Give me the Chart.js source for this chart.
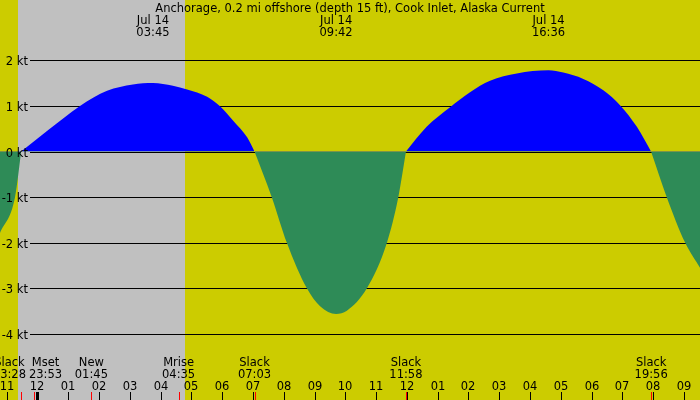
<!DOCTYPE html>
<html>
<head>
<meta charset="utf-8">
<script src="https://cdn.jsdelivr.net/npm/chart.js@4"></script>
<style>html,body{margin:0;padding:0;background:#cccc00;}</style>
</head>
<body>
<canvas id="tide" width="700" height="400"></canvas>
<script>
'use strict';

const title = 'Anchorage, 0.2 mi offshore (depth 15 ft), Cook Inlet, Alaska Current';
// hours from midnight Jul 14 (negative = evening of Jul 13)
const hours = [-1.22, -0.73, -0.53, 0.37, 1.38, 2.26, 3.10, 3.75, 4.40, 4.86, 5.51, 5.93, 6.35, 6.81, 7.05,
	7.61, 8.10, 8.75, 9.18, 9.70, 10.05, 10.70, 11.35, 11.72, 11.97,
	12.64, 13.40, 14.05, 14.70, 15.57, 16.60, 17.08, 17.73, 18.38, 18.93, 19.47, 19.93,
	20.44, 21.04, 21.52];
const knots = [-1.79, -1.0, 0, 0.48, 1.0, 1.33, 1.47, 1.50, 1.44, 1.36, 1.2, 0.99, 0.68, 0.31, 0,
	-1.0, -2.0, -3.0, -3.39, -3.56, -3.49, -3.0, -2.0, -1.0, 0,
	0.54, 0.97, 1.30, 1.55, 1.71, 1.78, 1.73, 1.59, 1.34, 1.01, 0.54, 0,
	-1.0, -2.0, -2.55];
const peakDates = ['Jul 14', 'Jul 14', 'Jul 14'];
const peakTimes = ['03:45', '09:42', '16:36'];
const eventNames = ['Slack', 'Mset', 'New', 'Mrise', 'Slack', 'Slack', 'Slack'];
const eventTimes = ['23:28', '23:53', '01:45', '04:35', '07:03', '11:58', '19:56'];
const ktTicks = [2, 1, 0, -1, -2, -3, -4];
const hourTicks = [-1, 0, 1, 2, 3, 4, 5, 6, 7, 8, 9, 10, 11, 12, 13, 14, 15, 16, 17, 18, 19, 20, 21];
const sunset = '23:22';
const sunrise = '04:47';

const FONT = '11.5px "DejaVu Sans"';

function toHours(t){
	let p = t.split(':');
	let h = parseInt(p[0], 10) + parseInt(p[1], 10) / 60;
	if(h >= 22){
		h -= 24;
	}
	return h;
}

function hourLabel(h){
	let v = ((h % 12) + 12) % 12;
	if(v == 0) v = 12;
	return (v < 10 ? '0' : '') + v;
}

const tidePlugin = {
	id: 'tide',
	beforeDraw(chart){
		let ctx = chart.ctx;
		let xs = chart.scales.x;
		ctx.save();
		ctx.fillStyle = '#cccc00';
		ctx.fillRect(0, 0, chart.width, chart.height);
		let x0 = Math.round(xs.getPixelForValue(toHours(sunset)));
		let x1 = Math.round(xs.getPixelForValue(toHours(sunrise)));
		ctx.fillStyle = '#c0c0c0';
		ctx.fillRect(x0, 0, x1 - x0, chart.height);
		ctx.restore();
	},
	beforeDatasetsDraw(chart){
		let ctx = chart.ctx;
		let ys = chart.scales.y;
		ctx.save();
		ctx.strokeStyle = '#000';
		ctx.lineWidth = 1;
		for(let i = 0; i < ktTicks.length; i++){
			let y = Math.round(ys.getPixelForValue(ktTicks[i])) + 0.5;
			ctx.beginPath();
			ctx.moveTo(30, y);
			ctx.lineTo(chart.width, y);
			ctx.stroke();
		}
		ctx.restore();
	},
	afterDatasetsDraw(chart){
		let ctx = chart.ctx;
		let xs = chart.scales.x;
		let ys = chart.scales.y;
		ctx.save();
		ctx.font = FONT;
		ctx.fillStyle = '#000';
		ctx.textBaseline = 'alphabetic';

		// kt labels
		ctx.textAlign = 'right';
		for(let i = 0; i < ktTicks.length; i++){
			let y = Math.round(ys.getPixelForValue(ktTicks[i]));
			ctx.fillText(ktTicks[i] + ' kt', 28, y + 5);
		}

		// title and peak labels
		ctx.textAlign = 'center';
		ctx.fillText(title, chart.width / 2, 12);
		for(let i = 0; i < peakTimes.length; i++){
			let x = xs.getPixelForValue(toHours(peakTimes[i]));
			ctx.fillText(peakDates[i], x, 24);
			ctx.fillText(peakTimes[i], x, 36);
		}

		// event labels, pushed apart when they collide
		let pos = eventTimes.map((t) => xs.getPixelForValue(toHours(t)));
		let widths = eventTimes.map((t, i) => Math.max(ctx.measureText(t).width, ctx.measureText(eventNames[i]).width));
		for(let i = 1; i < pos.length; i++){
			let need = (widths[i - 1] + widths[i]) / 2 + 3;
			let gap = pos[i] - pos[i - 1];
			if(gap < need){
				let d = (need - gap) / 2;
				pos[i - 1] -= d;
				pos[i] += d;
			}
		}
		for(let i = 0; i < eventNames.length; i++){
			ctx.fillText(eventNames[i], pos[i], 366);
			ctx.fillText(eventTimes[i], pos[i], 378);
		}

		// hour ticks
		for(let i = 0; i < hourTicks.length; i++){
			let x = Math.round(xs.getPixelForValue(hourTicks[i]));
			ctx.fillText(hourLabel(hourTicks[i]), x, 390);
			if(hourTicks[i] == 0){
				ctx.fillRect(x - 1, 392, 3, 8);
			}else{
				ctx.fillRect(x, 392, 1, 8);
			}
		}
		ctx.fillStyle = '#ff0000';
		for(let i = 0; i < eventTimes.length; i++){
			let x = Math.round(xs.getPixelForValue(toHours(eventTimes[i])));
			ctx.fillRect(x, 392, 1, 8);
		}
		ctx.restore();
	}
};

// split the curve at every slack (zero) so each flood / ebb lobe is smoothed on its own
let lobes = [];
let cur = [];
for(let i = 0; i < hours.length; i++){
	cur.push({x: hours[i], y: knots[i]});
	if(knots[i] == 0 && cur.length > 1){
		lobes.push(cur);
		cur = [{x: hours[i], y: knots[i]}];
	}
}
if(cur.length > 1) lobes.push(cur);

let datasets = lobes.map((pts) => ({
	data: pts,
	fill: {target: 'origin', above: '#0000ff', below: '#2e8b57'},
	borderWidth: 0,
	borderColor: 'rgba(0,0,0,0)',
	pointRadius: 0,
	cubicInterpolationMode: 'monotone'
}));

new Chart(document.getElementById('tide').getContext('2d'), {
	type: 'line',
	data: {datasets: datasets},
	options: {
		responsive: false,
		animation: false,
		events: [],
		layout: {padding: 0},
		plugins: {legend: {display: false}, tooltip: {enabled: false}},
		scales: {
			x: {type: 'linear', min: -1.218, max: 21.52, display: false},
			y: {min: -5.447, max: 3.321, display: false}
		}
	},
	plugins: [tidePlugin]
});
</script>
</body>
</html>
